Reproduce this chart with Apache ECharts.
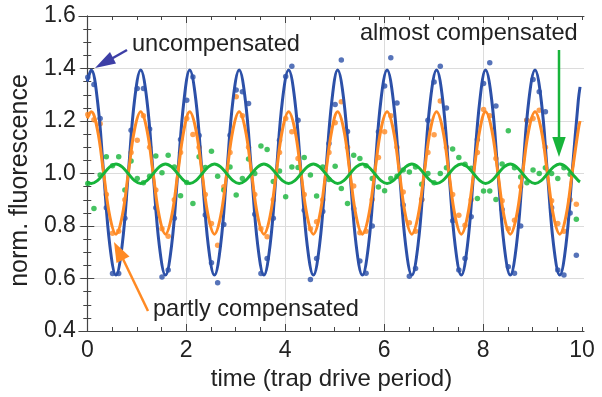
<!DOCTYPE html>
<html>
<head>
<meta charset="utf-8">
<script src="https://cdn.jsdelivr.net/npm/echarts@6/dist/echarts.min.js"></script>
<style>
  html, body { margin: 0; padding: 0; background: #fff; }
  #chart { width: 602px; height: 397px; }
</style>
</head>
<body>
<div id="chart"></div>
<script>
// measured points, sampled every 1/8 drive period
var dotTimes = [
  0.01, 0.135, 0.26, 0.385, 0.51, 0.635, 0.76, 0.885,
  1.01, 1.135, 1.26, 1.385, 1.51, 1.635, 1.76, 1.885,
  2.01, 2.135, 2.26, 2.385, 2.51, 2.635, 2.76, 2.885,
  3.01, 3.135, 3.26, 3.385, 3.51, 3.635, 3.76, 3.885,
  4.01, 4.135, 4.26, 4.385, 4.51, 4.635, 4.76, 4.885,
  5.01, 5.135, 5.26, 5.385, 5.51, 5.635, 5.76, 5.885,
  6.01, 6.135, 6.26, 6.385, 6.51, 6.635, 6.76, 6.885,
  7.01, 7.135, 7.26, 7.385, 7.51, 7.635, 7.76, 7.885,
  8.01, 8.135, 8.26, 8.385, 8.51, 8.635, 8.76, 8.885,
  9.01, 9.135, 9.26, 9.385, 9.51, 9.635, 9.76, 9.885
];
var blueDots = [
  1.367, 1.339, 1.21, 0.87, 0.619, 0.619, 0.83, 1.165,
  1.324, 1.324, 1.17, 0.87, 0.606, 0.632, 0.83, 1.13,
  1.279, 1.368, 1.145, 0.842, 0.66, 0.584, 0.806, 1.146,
  1.318, 1.311, 1.267, 0.845, 0.619, 0.676, 0.83, 1.127,
  1.37, 1.409, 1.203, 0.86, 0.596, 0.676, 0.855, 1.114,
  1.263, 1.432, 1.16, 0.867, 0.667, 0.62, 0.80, 1.159,
  1.333, 1.441, 1.269, 0.88, 0.609, 0.638, 0.901, 1.203,
  1.349, 1.409, 1.25, 0.82, 0.632, 0.676, 0.835, 1.13,
  1.343, 1.422, 1.257, 0.863, 0.645, 0.62, 0.80, 1.203,
  1.358, 1.311, 1.235, 0.87, 0.632, 0.613, 0.85, 0.689
];
var orangeDots = [
  1.225, 1.205, 1.19, 0.92, 0.772, 0.78, 0.90, 1.08,
  1.127, 1.22, 1.10, 0.937, 0.79, 0.761, 0.90, 1.08,
  1.21, 1.149, 1.10, 0.92, 0.81, 0.727, 0.95, 1.08,
  1.292, 1.22, 1.10, 0.92, 0.79, 0.759, 0.90, 1.08,
  1.21, 1.159, 1.057, 0.92, 0.79, 0.816, 0.90, 1.08,
  1.193, 1.273, 1.10, 0.952, 0.774, 0.78, 0.901, 1.061,
  1.159, 1.22, 1.10, 0.93, 0.812, 0.78, 0.90, 1.08,
  1.148, 1.276, 1.10, 0.92, 0.841, 0.803, 0.90, 1.08,
  1.244, 1.22, 1.057, 0.896, 0.79, 0.822, 0.95, 1.203,
  1.21, 1.241, 1.10, 0.896, 0.81, 0.78, 0.90, 0.883
];
var greenDots = [
  0.962, 0.867, 0.994, 1.064, 1.03, 1.064, 0.937, 1.048,
  0.981, 0.965, 0.99, 1.067, 1.003, 1.07, 1.025, 0.915,
  0.966, 0.886, 1.064, 1.023, 1.085, 0.99, 0.937, 1.025,
  0.918, 0.981, 1.055, 1.0, 1.105, 1.091, 0.97, 1.01,
  0.911, 1.025, 1.023, 1.061, 0.994, 0.914, 1.025, 0.977,
  1.028, 0.943, 0.886, 1.07, 1.057, 1.03, 0.981, 0.949,
  0.934, 0.981, 0.99, 1.013, 1.006, 1.025, 0.959, 1.0,
  0.965, 1.0, 1.022, 1.093, 1.061, 1.035, 1.02, 0.905,
  0.933, 0.933, 0.901, 1.036, 1.163, 1.022, 0.987, 0.965,
  1.013, 1.0, 1.022, 1.0, 0.981, 1.022, 0.997, 0.826
];

// fitted curves, read at peaks, troughs and the points in between
var fitTimes = [
  0,
  0.08, 0.205, 0.33, 0.455, 0.58, 0.705, 0.83, 0.955,
  1.08, 1.205, 1.33, 1.455, 1.58, 1.705, 1.83, 1.955,
  2.07, 2.195, 2.32, 2.445, 2.57, 2.695, 2.82, 2.945,
  3.07, 3.195, 3.32, 3.445, 3.57, 3.695, 3.82, 3.945,
  4.07, 4.195, 4.32, 4.445, 4.57, 4.695, 4.82, 4.945,
  5.06, 5.185, 5.31, 5.435, 5.56, 5.685, 5.81, 5.935,
  6.06, 6.185, 6.31, 6.435, 6.56, 6.685, 6.81, 6.935,
  7.06, 7.185, 7.31, 7.435, 7.56, 7.685, 7.81, 7.935,
  8.05, 8.175, 8.30, 8.425, 8.55, 8.675, 8.80, 8.925,
  9.05, 9.175, 9.30, 9.425, 9.55, 9.675, 9.80, 9.925,
  9.96
];
var blueFit = [
  1.35,
  1.394, 1.279, 1.003, 0.727, 0.613, 0.727, 1.003, 1.279,
  1.394, 1.279, 1.003, 0.727, 0.613, 0.727, 1.003, 1.279,
  1.394, 1.279, 1.003, 0.727, 0.613, 0.727, 1.003, 1.279,
  1.394, 1.279, 1.003, 0.727, 0.613, 0.727, 1.003, 1.279,
  1.394, 1.279, 1.003, 0.727, 0.613, 0.727, 1.003, 1.279,
  1.394, 1.279, 1.003, 0.727, 0.613, 0.727, 1.003, 1.279,
  1.394, 1.279, 1.003, 0.727, 0.613, 0.727, 1.003, 1.279,
  1.394, 1.279, 1.003, 0.727, 0.613, 0.727, 1.003, 1.279,
  1.394, 1.279, 1.003, 0.727, 0.613, 0.727, 1.003, 1.279,
  1.394, 1.279, 1.003, 0.727, 0.613, 0.727, 1.003, 1.279,
  1.33
];
var orangeFit = [
  1.21,
  1.235, 1.167, 1.002, 0.837, 0.769, 0.837, 1.002, 1.167,
  1.235, 1.167, 1.002, 0.837, 0.769, 0.837, 1.002, 1.167,
  1.235, 1.167, 1.002, 0.837, 0.769, 0.837, 1.002, 1.167,
  1.235, 1.167, 1.002, 0.837, 0.769, 0.837, 1.002, 1.167,
  1.235, 1.167, 1.002, 0.837, 0.769, 0.837, 1.002, 1.167,
  1.235, 1.167, 1.002, 0.837, 0.769, 0.837, 1.002, 1.167,
  1.235, 1.167, 1.002, 0.837, 0.769, 0.837, 1.002, 1.167,
  1.235, 1.167, 1.002, 0.837, 0.769, 0.837, 1.002, 1.167,
  1.235, 1.167, 1.002, 0.837, 0.769, 0.837, 1.002, 1.167,
  1.235, 1.167, 1.002, 0.837, 0.769, 0.837, 1.002, 1.167,
  1.20
];
var greenFit = [
  0.968,
  0.962, 0.973, 0.999, 1.025, 1.036, 1.025, 0.999, 0.973,
  0.962, 0.973, 0.999, 1.025, 1.036, 1.025, 0.999, 0.973,
  0.962, 0.973, 0.999, 1.025, 1.036, 1.025, 0.999, 0.973,
  0.962, 0.973, 0.999, 1.025, 1.036, 1.025, 0.999, 0.973,
  0.962, 0.973, 0.999, 1.025, 1.036, 1.025, 0.999, 0.973,
  0.962, 0.973, 0.999, 1.025, 1.036, 1.025, 0.999, 0.973,
  0.962, 0.973, 0.999, 1.025, 1.036, 1.025, 0.999, 0.973,
  0.962, 0.973, 0.999, 1.025, 1.036, 1.025, 0.999, 0.973,
  0.962, 0.973, 0.999, 1.025, 1.036, 1.025, 0.999, 0.973,
  0.962, 0.973, 0.999, 1.025, 1.036, 1.025, 0.999, 0.973,
  0.968
];

// tick positions
var xLabels = [0, 2, 4, 6, 8, 10];
var xGrid = [2, 4, 6, 8];
var xMinor = [0, 0.5, 1, 1.5, 2, 2.5, 3, 3.5, 4, 4.5, 5, 5.5, 6, 6.5, 7, 7.5, 8, 8.5, 9, 9.5, 10];

var BLUE = "#2c50a8";
var ORANGE = "#ff8a24";
var GREEN = "#17b43a";
var FRAME = "#444";
var FONT = "Liberation Sans";

function pairs(xs, ys) {
  return xs.map(function (x, i) { return [x, ys[i]]; });
}

var chart = echarts.init(document.getElementById("chart"));

var frameX = function (pos, ticks, len, extra) {
  var ax = {
    type: "value", position: pos, min: -0.17, max: 10.04,
    axisLine: { show: false },
    axisTick: { show: true, inside: true, length: len, customValues: ticks, lineStyle: { color: FRAME, width: 1 } },
    axisLabel: { show: false },
    splitLine: { show: false }
  };
  return Object.assign(ax, extra || {});
};

var option = {
  animation: false,
  grid: { left: 77, right: 18, top: 16, bottom: 66 },
  xAxis: [
    frameX("bottom", xMinor, 7, {
      name: "time (trap drive period)",
      nameLocation: "middle",
      nameGap: 31,
      nameTextStyle: { fontFamily: FONT, fontSize: 24, color: "#222" },
      axisLine: { show: true, lineStyle: { color: FRAME, width: 1.2 } },
      axisTick: { show: true, inside: true, length: 4, customValues: xMinor, lineStyle: { color: FRAME } },
      axisLabel: { show: true, customValues: xLabels, margin: 8, fontFamily: FONT, fontSize: 23, color: "#222" }
    }),
    frameX("bottom", xGrid, 7, {
      splitLine: { show: true, lineStyle: { color: "#dcdcdc", width: 1 } }
    }),
    frameX("top", xMinor, 4, {
      axisLine: { show: true, lineStyle: { color: FRAME, width: 1 } }
    }),
    frameX("top", xGrid, 7)
  ],
  yAxis: [
    {
      type: "value", position: "left", min: 0.4, max: 1.6, interval: 0.2,
      name: "norm. fluorescence",
      nameLocation: "middle",
      nameGap: 38,
      nameTextStyle: { fontFamily: FONT, fontSize: 25, color: "#222", padding: [0, 14, 0, 0] },
      axisLine: { show: true, lineStyle: { color: FRAME, width: 1.2 } },
      axisTick: { show: true, inside: true, length: 7, lineStyle: { color: FRAME } },
      minorTick: { show: true, splitNumber: 4, length: 4, lineStyle: { color: FRAME } },
      axisLabel: {
        margin: 3, fontFamily: FONT, fontSize: 23, color: "#222",
        formatter: function (v) { return v.toFixed(1); }
      },
      splitLine: { show: true, lineStyle: { color: "#dcdcdc", width: 1 } }
    },
    {
      type: "value", position: "right", min: 0.4, max: 1.6, interval: 0.2,
      axisLine: { show: true, lineStyle: { color: FRAME, width: 1 } },
      axisTick: { show: true, inside: true, length: 7, lineStyle: { color: FRAME } },
      minorTick: { show: true, splitNumber: 4, length: 4, lineStyle: { color: FRAME } },
      axisLabel: { show: false },
      splitLine: { show: false }
    }
  ],
  series: [
    { type: "scatter", data: pairs(dotTimes, blueDots), symbolSize: 5.5, itemStyle: { color: BLUE }, z: 2 },
    { type: "scatter", data: pairs(dotTimes, orangeDots), symbolSize: 5.5, itemStyle: { color: ORANGE }, z: 2 },
    { type: "scatter", data: pairs(dotTimes, greenDots), symbolSize: 5.5, itemStyle: { color: GREEN }, z: 2 },
    { type: "line", data: pairs(fitTimes, blueFit), smooth: 0.4, showSymbol: false, lineStyle: { color: BLUE, width: 3 }, z: 3 },
    { type: "line", data: pairs(fitTimes, orangeFit), smooth: 0.4, showSymbol: false, lineStyle: { color: ORANGE, width: 3 }, z: 4 },
    { type: "line", data: pairs(fitTimes, greenFit), smooth: 0.4, showSymbol: false, lineStyle: { color: GREEN, width: 3 }, z: 5 }
  ],
  graphic: [
    { type: "text", left: 132, top: 32, z: 10, style: { text: "uncompensated", font: "23.6px 'Liberation Sans'", fill: "#222" } },
    { type: "line", z: 10, shape: { x1: 127, y1: 50, x2: 112, y2: 58.5 }, style: { stroke: "#3d3fa6", lineWidth: 2.5 } },
    { type: "polygon", z: 10, shape: { points: [[95, 68], [116, 63.5], [110, 52]] }, style: { fill: "#3d3fa6" } },

    { type: "text", left: 360, top: 21, z: 10, style: { text: "almost compensated", font: "23.6px 'Liberation Sans'", fill: "#222" } },
    { type: "line", z: 10, shape: { x1: 559, y1: 50, x2: 559, y2: 140 }, style: { stroke: GREEN, lineWidth: 2.5 } },
    { type: "polygon", z: 10, shape: { points: [[559, 157], [552.3, 137], [565.7, 137]] }, style: { fill: GREEN } },

    { type: "text", left: 153, top: 297, z: 10, style: { text: "partly compensated", font: "23.6px 'Liberation Sans'", fill: "#222" } },
    { type: "line", z: 10, shape: { x1: 148, y1: 311, x2: 123, y2: 259 }, style: { stroke: ORANGE, lineWidth: 2.5 } },
    { type: "polygon", z: 10, shape: { points: [[114, 242], [129.5, 256.5], [116.5, 263]] }, style: { fill: ORANGE } }
  ]
};

chart.setOption(option);
</script>
</body>
</html>
